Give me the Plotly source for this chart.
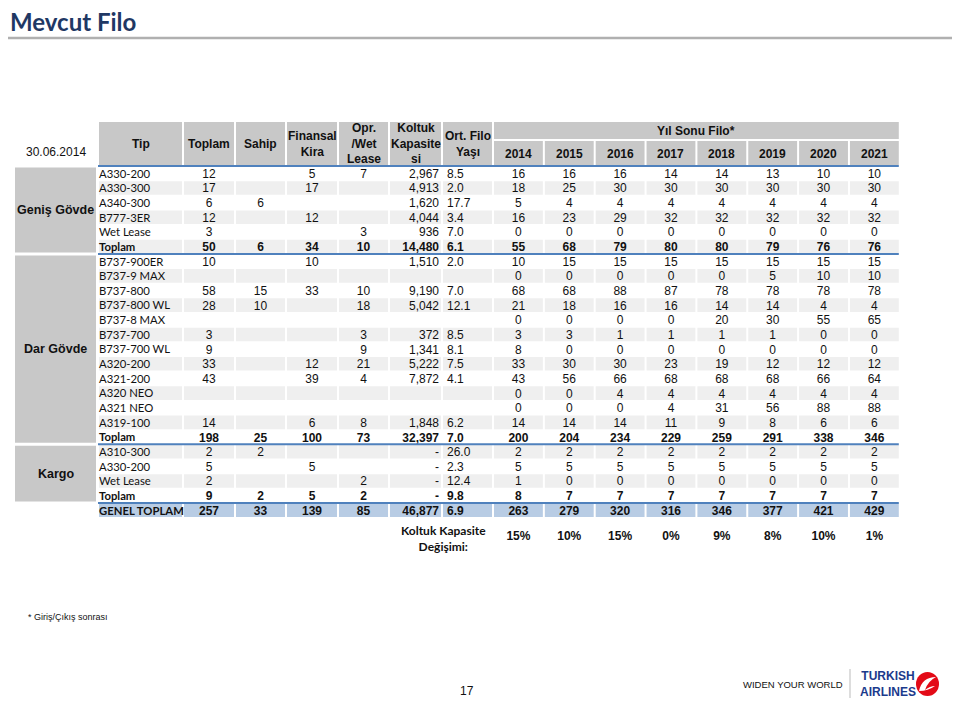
import plotly.graph_objects as go

# ---- data ----
tip = ["A330-200", "A330-300", "A340-300", "B777-3ER", "Wet Lease", "Toplam",
       "B737-900ER", "B737-9 MAX", "B737-800", "B737-800 WL", "B737-8 MAX", "B737-700",
       "B737-700 WL", "A320-200", "A321-200", "A320 NEO", "A321 NEO", "A319-100", "Toplam",
       "A310-300", "A330-200", "Wet Lease", "Toplam", "GENEL TOPLAM"]
grup_adlari = ["Geniş Gövde", "Dar Gövde", "Kargo"]
grup_satir = [6, 13, 4]
toplam_satirlari = [5, 18, 22, 23]

toplam = [12, 17, 6, 12, 3, 50, 10, None, 58, 28, None, 3, 9, 33, 43, None, None, 14, 198, 2, 5, 2, 9, 257]
sahip = [None, None, 6, None, None, 6, None, None, 15, 10, None, None, None, None, None, None, None, None, 25,
         2, None, None, 2, 33]
finansal = [5, 17, None, 12, None, 34, 10, None, 33, None, None, None, None, 12, 39, None, None, 6, 100,
            None, 5, None, 5, 139]
opr_wet = [7, None, None, None, 3, 10, None, None, 10, 18, None, 3, 9, 21, 4, None, None, 8, 73,
           None, None, 2, 2, 85]
koltuk = [2967, 4913, 1620, 4044, 936, 14480, 1510, None, 9190, 5042, None, 372, 1341, 5222, 7872, None, None,
          1848, 32397, "-", "-", "-", "-", 46877]
yas = [8.5, 2.0, 17.7, 3.4, 7.0, 6.1, 2.0, None, 7.0, 12.1, None, 8.5, 8.1, 7.5, 4.1, None, None, 6.2, 7.0,
       26.0, 2.3, 12.4, 9.8, 6.9]

yillar = [2014, 2015, 2016, 2017, 2018, 2019, 2020, 2021]
filo_2014 = [16, 18, 5, 16, 0, 55, 10, 0, 68, 21, 0, 3, 8, 33, 43, 0, 0, 14, 200, 2, 5, 1, 8, 263]
filo_2015 = [16, 25, 4, 23, 0, 68, 15, 0, 68, 18, 0, 3, 0, 30, 56, 0, 0, 14, 204, 2, 5, 0, 7, 279]
filo_2016 = [16, 30, 4, 29, 0, 79, 15, 0, 88, 16, 0, 1, 0, 30, 66, 4, 0, 14, 234, 2, 5, 0, 7, 320]
filo_2017 = [14, 30, 4, 32, 0, 80, 15, 0, 87, 16, 0, 1, 0, 23, 68, 4, 4, 11, 229, 2, 5, 0, 7, 316]
filo_2018 = [14, 30, 4, 32, 0, 80, 15, 0, 78, 14, 20, 1, 0, 19, 68, 4, 31, 9, 259, 2, 5, 0, 7, 346]
filo_2019 = [13, 30, 4, 32, 0, 79, 15, 5, 78, 14, 30, 1, 0, 12, 68, 4, 56, 8, 291, 2, 5, 0, 7, 377]
filo_2020 = [10, 30, 4, 32, 0, 76, 15, 10, 78, 4, 55, 0, 0, 12, 66, 4, 88, 6, 338, 2, 5, 0, 7, 421]
filo_2021 = [10, 30, 4, 32, 0, 76, 15, 10, 78, 4, 65, 0, 0, 12, 64, 4, 88, 6, 346, 2, 5, 0, 7, 429]
filo = [filo_2014, filo_2015, filo_2016, filo_2017, filo_2018, filo_2019, filo_2020, filo_2021]
kapasite_degisimi = [15, 10, 15, 0, 9, 8, 10, 1]

# ---- layout (pixel units; page body has an 8px margin) ----
W, H = 960, 701
OFF = 8
grp_x = (15, 96)
edges = [98, 183, 235, 286, 338, 389, 442, 493] + [493 + (i + 1) * 50.85 for i in range(8)]
head_top, head_mid, head_bot = 122, 140, 165.5
row_top = 166.0
pitch = 14.65

NUM = "Liberation Sans, Arial"
CAL = "Lato, Carlito, Calibri"
HEAD_FILL = "#C8C8C8"
ALT_FILL = "#EFEFEF"
TOT_FILL = "#B8CCE4"
BLUE = "#4F81BD"

n = len(tip)
yc = [row_top + (i + 0.5) * pitch + 1.5 for i in range(n)]


def fmt(v, kind="int"):
    if v is None:
        return ""
    if isinstance(v, str):
        return v
    if kind == "kol":
        return f"{v:,}"
    if kind == "yas":
        return f"{v:.1f}"
    return str(v)


def b(texts):
    return [f"<b>{t}</b>" if (i in toplam_satirlari and t) else t for i, t in enumerate(texts)]


shapes = []
# header cells
for c in range(7):
    shapes.append(dict(type="rect", x0=edges[c] + 1, x1=edges[c + 1] - 1, y0=head_top, y1=head_bot,
                       fillcolor=HEAD_FILL, line_width=0, layer="below"))
shapes.append(dict(type="rect", x0=edges[7] + 1, x1=edges[15] - 1, y0=head_top, y1=head_mid - 1,
                   fillcolor=HEAD_FILL, line_width=0, layer="below"))
for c in range(7, 15):
    shapes.append(dict(type="rect", x0=edges[c] + 1, x1=edges[c + 1] - 1, y0=head_mid + 1, y1=head_bot,
                       fillcolor=HEAD_FILL, line_width=0, layer="below"))

# body row fills
for i in range(n):
    if i == n - 1:
        fill = TOT_FILL
    elif i % 2 == 1:
        fill = ALT_FILL
    else:
        continue
    y0 = row_top + i * pitch + 0.5
    y1 = row_top + (i + 1) * pitch - 0.5
    for c in range(15):
        shapes.append(dict(type="rect", x0=edges[c] + 1, x1=edges[c + 1] - 1, y0=y0, y1=y1,
                           fillcolor=fill, line_width=0, layer="below"))

# group boxes + blue separators
start = 0
grp_centers = []
for g, cnt in enumerate(grup_satir):
    y0 = row_top + start * pitch
    y1 = row_top + (start + cnt) * pitch
    shapes.append(dict(type="rect", x0=grp_x[0], x1=grp_x[1], y0=y0 + 1.5, y1=y1 - 1.5,
                       fillcolor=HEAD_FILL, line_width=0, layer="below"))
    grp_centers.append((y0 + y1) / 2)
    start += cnt
bounds = [0, 6, 19, 23]
for k in bounds:
    yb = row_top + k * pitch
    shapes.append(dict(type="line", x0=edges[0], x1=edges[-1] - 1, y0=yb, y1=yb,
                       line=dict(color=BLUE, width=2)))

# title rule, footer divider, logo
shapes.append(dict(type="line", x0=0, x1=W, y0=38, y1=38, line=dict(color="#B0B0B0", width=2.5)))
shapes.append(dict(type="line", x0=850, x1=850, y0=669, y1=698, line=dict(color="#BBBBBB", width=1)))
shapes.append(dict(type="circle", x0=916, x1=939, y0=672, y1=696, fillcolor="#E30A17", line_width=0))
shapes.append(dict(type="path", path="M 919 691 Q 922 677 936 677 Q 928 681 925 690 Q 930 686 935 686 Q 928 691 919 691 Z",
                   fillcolor="white", line_width=0))

fig = go.Figure()


def col_trace(xpos, texts, family, pos, size=12):
    fig.add_trace(go.Scatter(x=[xpos] * n, y=yc, mode="text", text=texts, textposition=pos,
                             textfont=dict(family=family, size=size, color="#111111"),
                             hoverinfo="skip", showlegend=False, cliponaxis=False))


def center(c):
    return (edges[c] + edges[c + 1]) / 2


col_trace(edges[0] + 1, b(tip), CAL, "middle right", 11.3)
col_trace(center(1), b([fmt(v) for v in toplam]), NUM, "middle center")
col_trace(center(2), b([fmt(v) for v in sahip]), NUM, "middle center")
col_trace(center(3), b([fmt(v) for v in finansal]), NUM, "middle center")
col_trace(center(4), b([fmt(v) for v in opr_wet]), NUM, "middle center")
col_trace(439, b([fmt(v, "kol") for v in koltuk]), NUM, "middle left")
col_trace(447, b([fmt(v, "yas") for v in yas]), NUM, "middle right")
for j, seri in enumerate(filo):
    col_trace(center(7 + j), b([fmt(v) for v in seri]), NUM, "middle center")

# capacity change row
fig.add_trace(go.Scatter(x=[center(7 + j) for j in range(8)], y=[536.5] * 8, mode="text",
                         text=[f"<b>{v}%</b>" for v in kapasite_degisimi], textposition="middle center",
                         textfont=dict(family=NUM, size=12, color="#111111"),
                         hoverinfo="skip", showlegend=False, cliponaxis=False))

ann = []


def note(x, y, text, family=NUM, size=12, color="#111111", xanchor="center"):
    ann.append(dict(x=x, y=y, xref="x", yref="y", text=text, showarrow=False, xanchor=xanchor,
                    yanchor="middle", font=dict(family=family, size=size, color=color)))


headers = ["Tip", "Toplam", "Sahip", "Finansal<br>Kira", "Opr.<br>/Wet<br>Lease", "Koltuk<br>Kapasite<br>si",
           "Ort. Filo<br>Yaşı"]
for c, h in enumerate(headers):
    note(center(c), (head_top + head_bot) / 2, f"<b>{h}</b>")
note((edges[7] + edges[15]) / 2, (head_top + head_mid) / 2, "<b>Yıl Sonu Filo*</b>")
for j, yr in enumerate(yillar):
    note(center(7 + j), (head_mid + head_bot) / 2 + 1, f"<b>{yr}</b>")

note((grp_x[0] + grp_x[1]) / 2, 152, "30.06.2014")
for g, name in enumerate(grup_adlari):
    note((grp_x[0] + grp_x[1]) / 2, grp_centers[g], f"<b>{name}</b>", size=12.5)

note(443, 538, "<b>Koltuk Kapasite<br>Değişimi:</b>", family=CAL, size=12)
note(8, 21, "<b>Mevcut Filo</b>", family=CAL, size=24, color="#1F3864", xanchor="left")
note(26, 617, "* Giriş/Çıkış sonrası", family=NUM, size=9, xanchor="left")
note(793, 684, "WIDEN YOUR WORLD", family=NUM, size=9.5)
note(888, 684, "<b>TURKISH<br>AIRLINES</b>", family=NUM, size=12, color="#1B3A8C")
note(467, 691, "17", family=NUM, size=12)

fig.update_layout(
    width=W - OFF, height=H - OFF, margin=dict(l=0, r=0, t=0, b=0),
    paper_bgcolor="white", plot_bgcolor="white",
    xaxis=dict(range=[OFF, W], visible=False, fixedrange=True),
    yaxis=dict(range=[H, OFF], visible=False, fixedrange=True),
    shapes=shapes, annotations=ann,
)

fig.write_html("out.html")
